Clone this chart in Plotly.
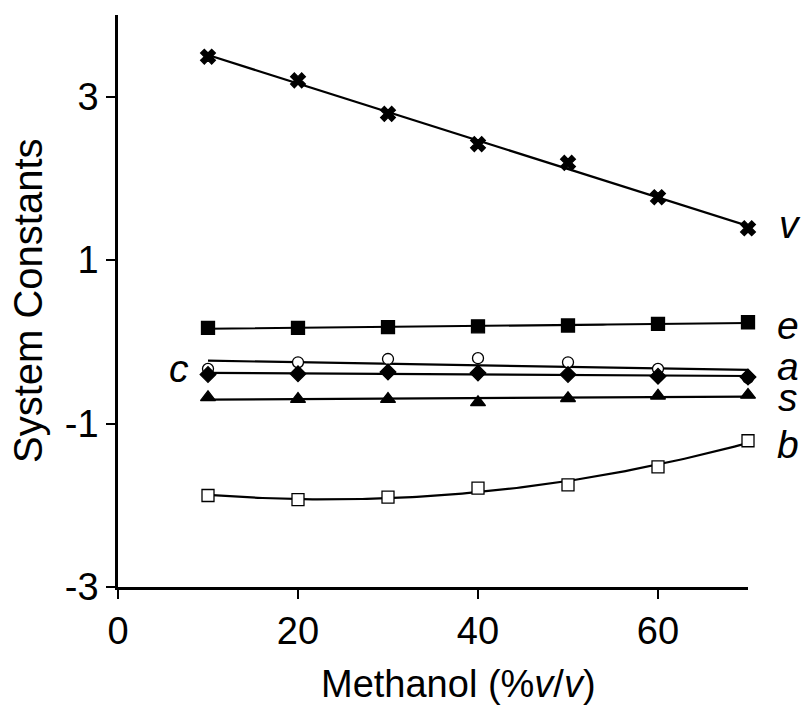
import numpy as np
import plotly.graph_objects as go

# Data
methanol = [10, 20, 30, 40, 50, 60, 70]
v_vals = [3.49, 3.20, 2.79, 2.42, 2.19, 1.77, 1.39]
e_vals = [0.17, 0.17, 0.18, 0.19, 0.20, 0.22, 0.24]
c_vals = [-0.33, -0.25, -0.21, -0.20, -0.25, -0.33, -0.44]
a_vals = [-0.40, -0.39, -0.37, -0.38, -0.40, -0.42, -0.43]
s_vals = [-0.68, -0.70, -0.70, -0.74, -0.69, -0.66, -0.65]
b_vals = [-1.88, -1.93, -1.90, -1.79, -1.75, -1.53, -1.21]

x_ticks = [0, 20, 40, 60]
x_ticktext = ["0", "20", "40", "60"]
y_ticks = [-3, -1, 1, 3]
y_ticktext = ["-3", "-1", "1", "3"]

FONT = "Liberation Sans, Arial, sans-serif"

series = [
    # (values, symbol, fill, size, fit degree)
    (v_vals, "x", "black", 13, 1),
    (e_vals, "square", "black", 13, 1),
    (c_vals, "circle", "white", 11, 1),
    (a_vals, "diamond", "black", 12, 1),
    (s_vals, "triangle-up", "black", 13, 1),
    (b_vals, "square", "white", 12, 2),
]

fig = go.Figure()
xs = np.linspace(min(methanol), max(methanol), 120)
for vals, sym, fill, size, deg in series:
    coef = np.polyfit(methanol, vals, deg)
    fig.add_trace(go.Scatter(
        x=xs, y=np.polyval(coef, xs), mode="lines",
        line=dict(color="black", width=2.2), showlegend=False,
        cliponaxis=False, hoverinfo="skip"))
for vals, sym, fill, size, deg in series:
    fig.add_trace(go.Scatter(
        x=methanol, y=vals, mode="markers",
        marker=dict(symbol=sym, size=size, color=fill,
                    line=dict(color="black", width=1.3)),
        showlegend=False, cliponaxis=False))

axis_common = dict(
    showline=True, linecolor="black", linewidth=2.5,
    ticks="outside", ticklen=9, tickwidth=1.5, tickcolor="black",
    showgrid=False, zeroline=False,
    tickfont=dict(family=FONT, size=38, color="black"),
)

fig.update_layout(
    width=808, height=705,
    margin=dict(l=118, r=60, t=15, b=118),
    plot_bgcolor="white", paper_bgcolor="white",
    xaxis=dict(range=[0, 70], tickvals=x_ticks, ticktext=x_ticktext, **axis_common),
    yaxis=dict(range=[-3, 4], tickvals=y_ticks, ticktext=y_ticktext, **axis_common),
    font=dict(family=FONT, color="black"),
)

label_font = dict(family=FONT, size=39, color="black")
# right-hand series labels (paper x beyond the plot area, data y)
right_labels = [
    ("v", 1.066, 1.44),
    ("e", 1.063, 0.20),
    ("a", 1.063, -0.30),
    ("s", 1.063, -0.68),
    ("b", 1.063, -1.26),
]
for txt, lx, ly in right_labels:
    fig.add_annotation(x=lx, y=ly, xref="paper", yref="y", text=f"<i>{txt}</i>",
                       showarrow=False, font=label_font,
                       xanchor="center", yanchor="middle")
fig.add_annotation(x=6.8, y=-0.32, xref="x", yref="y", text="<i>c</i>",
                   showarrow=False, font=label_font,
                   xanchor="center", yanchor="middle")

fig.add_annotation(x=0.541, y=0, xref="paper", yref="paper",
                   text="Methanol (%<i>v</i>/<i>v</i>)", showarrow=False,
                   font=dict(family=FONT, size=38, color="black"),
                   xanchor="center", yanchor="middle", yshift=-97)
fig.add_annotation(x=0, y=0.5, xref="paper", yref="paper",
                   text="System Constants", textangle=-90, showarrow=False,
                   font=dict(family=FONT, size=40, color="black"),
                   xanchor="center", yanchor="middle", xshift=-90)

fig.write_html(
    "out.html",
    config={"displayModeBar": False},
    post_script="document.body.style.margin='0';document.body.style.overflow='hidden';",
)
